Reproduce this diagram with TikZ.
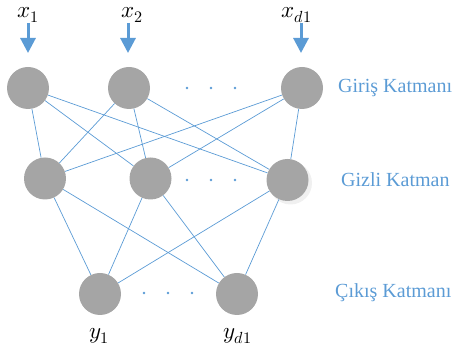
\documentclass[tikz,border=0pt]{standalone}
\usepackage{fontspec}
\setmainfont{Liberation Serif}
\usepackage{unicode-math}
\usetikzlibrary{arrows.meta}
\definecolor{lblue}{RGB}{91,155,213}
\definecolor{ngray}{RGB}{165,165,165}
\tikzset{
  neuron/.style={circle, fill=ngray, minimum size=42pt, inner sep=0pt, draw=none},
  link/.style={draw=lblue, line width=0.7pt},
  inarrow/.style={draw=lblue, line width=3pt, -{Triangle[width=15pt,length=15pt]}},
  layerlabel/.style={text=lblue, font=\fontsize{20}{22}\selectfont, anchor=west, inner sep=0pt},
  var/.style={font=\fontsize{23}{26}\selectfont, inner sep=0pt}
}
\begin{document}
\begin{tikzpicture}[x=1pt,y=-1pt]
\useasboundingbox (0,0) rectangle (456,352);
% shadow of hidden 3
\fill[gray!12] (290.5,183) circle (21.5pt);
% input layer
\node[neuron] (i1) at (28,88) {};
\node[neuron] (i2) at (129,88) {};
\node[neuron] (i3) at (302,88) {};
% hidden layer
\node[neuron] (h1) at (45,178.5) {};
\node[neuron] (h2) at (150.5,178.5) {};
\node[neuron] (h3) at (287.5,180) {};
% output layer
\node[neuron] (o1) at (100,294) {};
\node[neuron] (o2) at (237,294) {};
% input to hidden
\foreach \a in {i1,i2,i3}{
  \foreach \b in {h1,h2,h3}{
    \draw[link] (\a) -- (\b);
  }
}
% hidden to output
\foreach \a in {h1,h2,h3}{
  \foreach \b in {o1,o2}{
    \draw[link] (\a) -- (\b);
  }
}
% input labels and arrows
\node[var] (x1) at (28,15) {$x_1$};
\node[var] (x2) at (132,15) {$x_2$};
\node[var] (x3) at (297,15) {$x_{d1}$};
\coordinate (a1s) at (28,23);
\coordinate (a2s) at (128,23);
\coordinate (a3s) at (301,23);
\coordinate (a1e) at (28,53);
\coordinate (a2e) at (128,53);
\coordinate (a3e) at (301,53);
\draw[inarrow] (a1s) -- (a1e);
\draw[inarrow] (a2s) -- (a2e);
\draw[inarrow] (a3s) -- (a3e);
% output labels
\node[var] (y1) at (99,336) {$y_1$};
\node[var] (y2) at (238,336) {$y_{d1}$};
% dots
\foreach \x in {187,211,235}{
  \fill[lblue] (\x,88) circle (1.3pt);
  \fill[lblue] (\x,180) circle (1.3pt);
}
\foreach \x in {144,168,192}{
  \fill[lblue] (\x,293) circle (1.3pt);
}
% layer labels
\node[layerlabel] (l1) at (338,88) {Giriş Katmanı};
\node[layerlabel] (l2) at (341,180) {Gizli Katman};
\node[layerlabel] (l3) at (335,293) {Çıkış Katmanı};
\end{tikzpicture}
\end{document}
